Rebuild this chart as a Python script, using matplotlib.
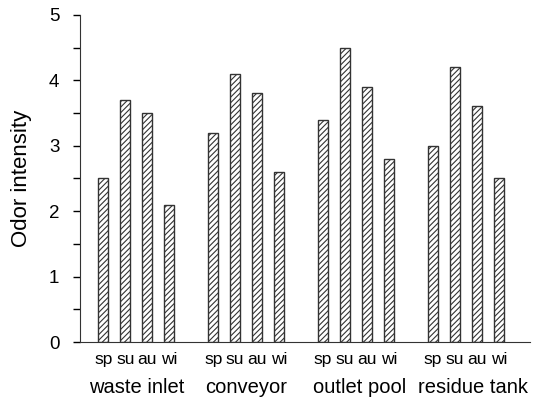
import matplotlib.pyplot as plt
import numpy as np

plt.rcParams['font.family'] = ['Liberation Sans', 'DejaVu Sans']
plt.rcParams['hatch.color'] = '#888888'
plt.rcParams['hatch.linewidth'] = 0.8

groups = ["waste inlet", "conveyor", "outlet pool", "residue tank"]
seasons = ["sp", "su", "au", "wi"]
values = [
    [2.5, 3.7, 3.5, 2.1],
    [3.2, 4.1, 3.8, 2.6],
    [3.4, 4.5, 3.9, 2.8],
    [3.0, 4.2, 3.6, 2.5],
]

fig = plt.figure(figsize=(5.35, 4.01), dpi=100)
ax = fig.add_axes([0.150, 0.147, 0.840, 0.816])

xs = []
labels = []
for g in range(len(groups)):
    x = g * 5 + np.arange(len(seasons))
    ax.bar(x, values[g], width=0.45, color='white', edgecolor='#333333',
           linewidth=1.0, hatch='//////')
    xs += list(x)
    labels += seasons

ax.set_xlim(-1.05, 19.4)
ax.set_ylim(0, 5)
ax.set_xticks(xs)
ax.set_xticklabels(labels, fontsize=12.5)
ax.tick_params(axis='x', length=0, pad=7)
ax.set_yticks([0, 1, 2, 3, 4, 5])
ax.set_yticks(np.arange(0.5, 5, 1), minor=True)
ax.tick_params(axis='y', labelsize=13.5, length=5, width=1, pad=10)
ax.tick_params(axis='y', which='minor', length=5, width=1)
ax.set_ylabel("Odor intensity", fontsize=16, labelpad=12)

for s in ['top', 'right']:
    ax.spines[s].set_visible(False)
ax.spines['left'].set_color('#333333')
ax.spines['bottom'].set_color('#333333')

# group names sit a bit right of centre for the last two groups, as in the source
offsets = [0.0, 0.0, 0.15, 0.3]
for g, name in enumerate(groups):
    ax.text(g * 5 + 1.5 + offsets[g], -0.14, name, transform=ax.get_xaxis_transform(),
            ha='center', va='center', fontsize=14.5)

fig.savefig("out.png", dpi=100)
